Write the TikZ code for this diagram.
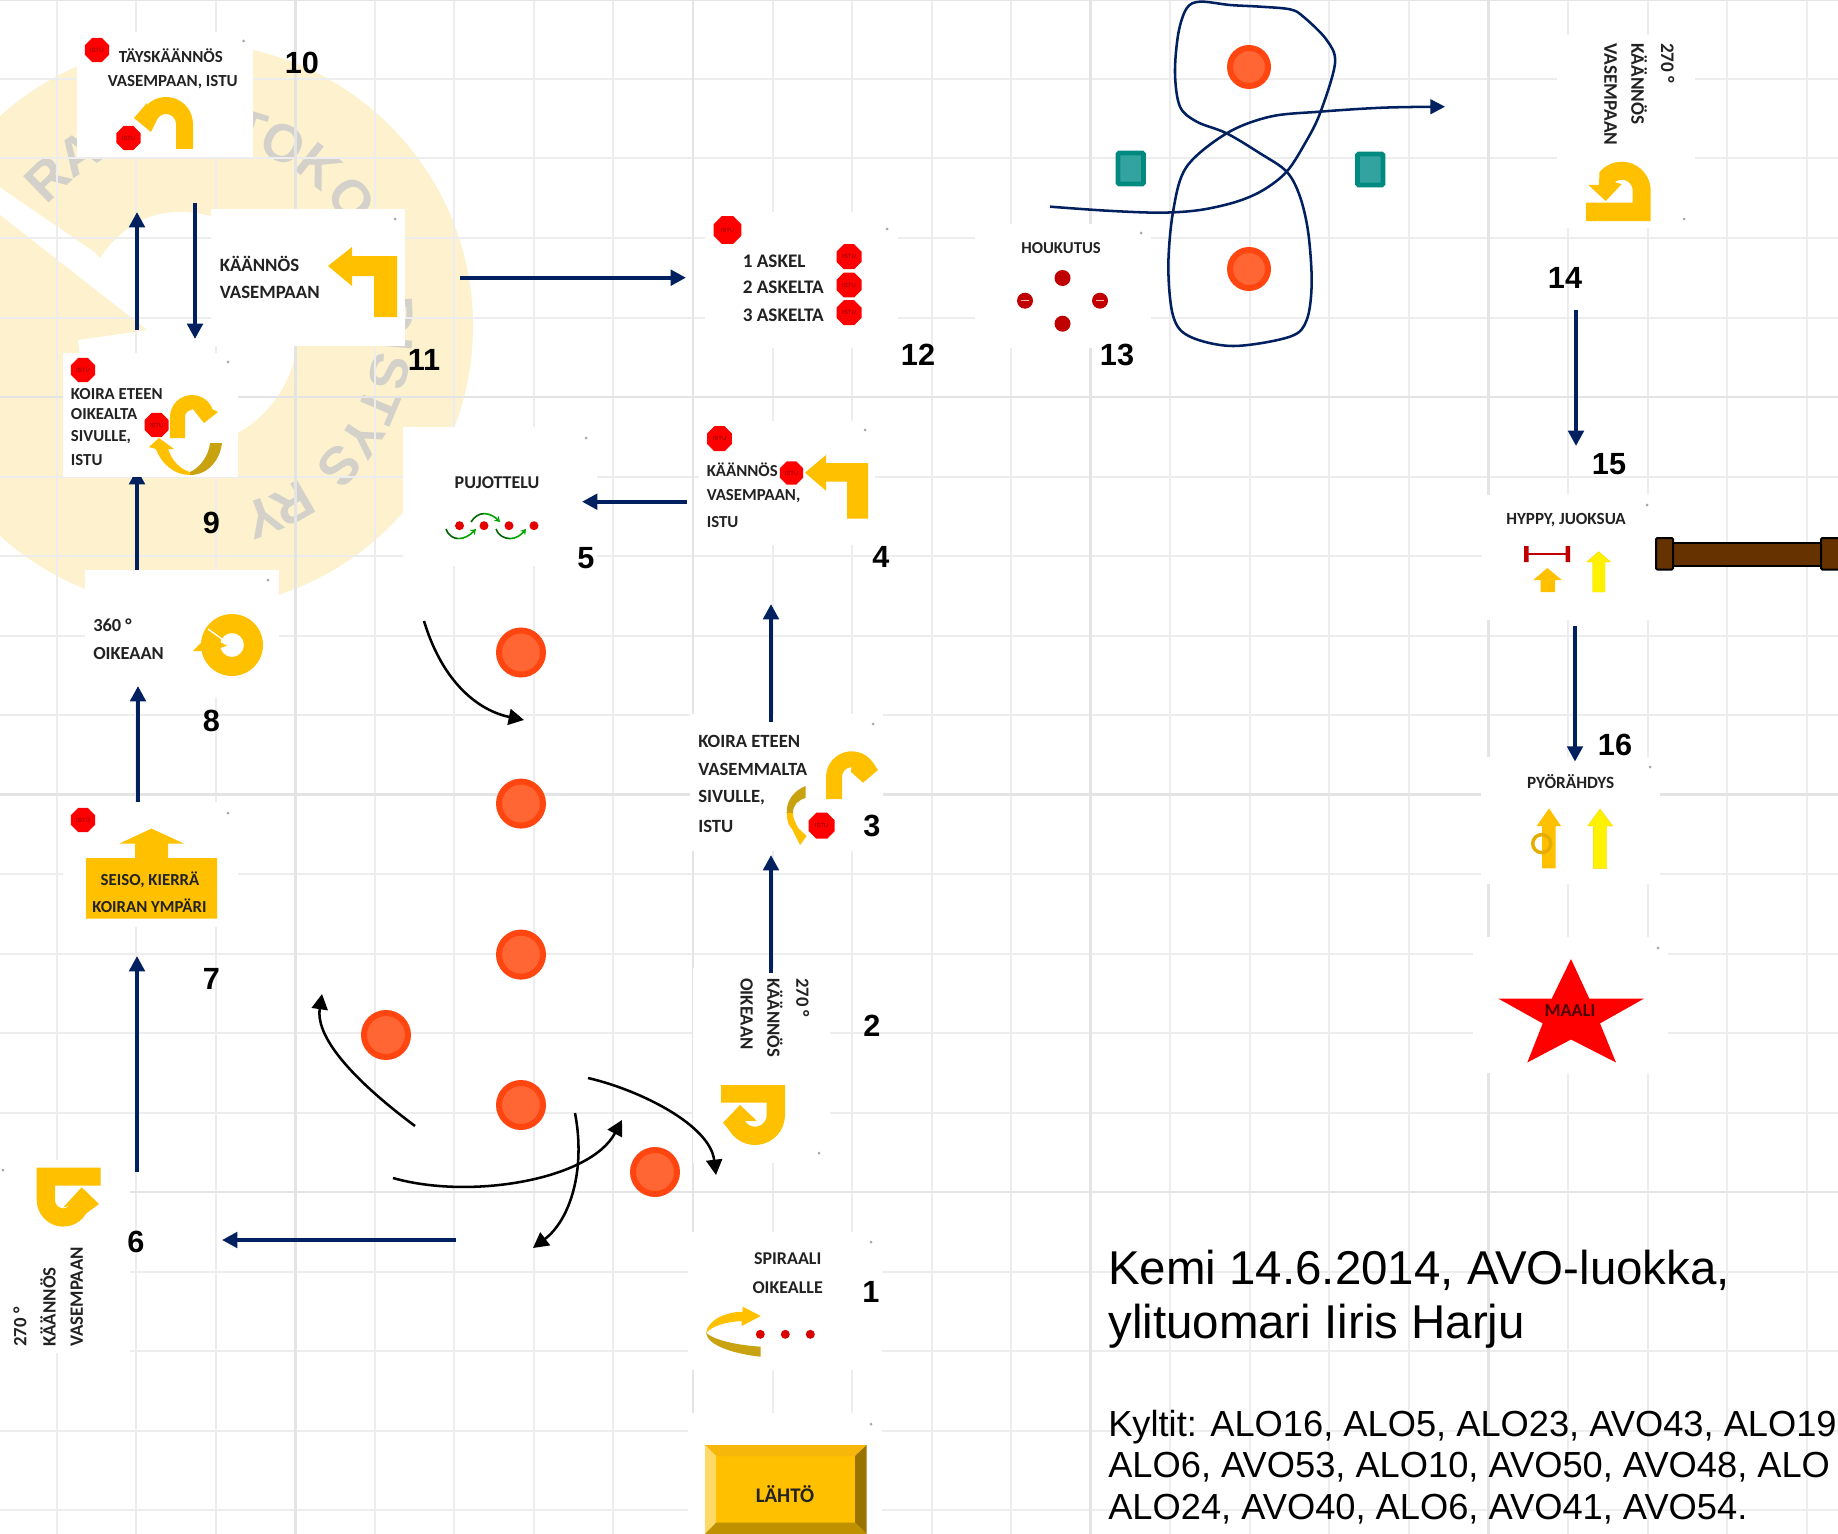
\documentclass[tikz,border=0pt]{standalone}
\usepackage{fontspec}
\setmainfont{Liberation Sans}
\newfontfamily\signfont{Carlito}
\usetikzlibrary{arrows.meta,shapes.geometric}
\definecolor{navy}{HTML}{002060}
\definecolor{amb}{HTML}{FFC000}
\definecolor{ambdark}{HTML}{C9A20F}
\definecolor{pale}{HTML}{FDF2CD}
\definecolor{gridminor}{HTML}{EDEDED}
\definecolor{gridmajor}{HTML}{E4E4E4}
\definecolor{wmgrey}{HTML}{D3D1C9}
\definecolor{cone}{HTML}{FF6633}
\definecolor{coneedge}{HTML}{FF4611}
\definecolor{teal1}{HTML}{33A3A0}
\definecolor{teal2}{HTML}{00897F}
\definecolor{signtext}{HTML}{222222}
\definecolor{darkred}{HTML}{C00000}
\definecolor{hurdle}{HTML}{663300}
\tikzset{
  tile/.style={fill=white,draw=none},
  amberfill/.style={fill=amb,draw=none},
  ribbon/.style={fill=ambdark,draw=none},
  navyarrow/.style={draw=navy,line width=3pt,-{Triangle[length=11.5pt,width=11.5pt]}},
  thinnavy/.style={draw=navy,line width=1.9pt},
  curvearrow/.style={draw=black,line width=1.9pt,-{Triangle[length=11.5pt,width=12pt]}},
  sg/.style={font=\signfont\bfseries\fontsize{#1}{15}\selectfont,text=signtext,inner sep=0pt},
  sg/.default=13.4,
  num/.style={font=\bfseries\fontsize{23}{23}\selectfont,text=black,inner sep=0pt},
  stopsgn/.style={regular polygon,regular polygon sides=8,fill=red,draw=none,inner sep=0pt,font=\fontsize{4.5}{5}\selectfont,text=darkred!70!black},
  cone1/.style={fill=cone,draw=coneedge,line width=4.5pt},
  gate/.style={fill=teal1,draw=teal2,line width=3.6pt,rounded corners=1pt},
  wm/.style={font=\bfseries\fontsize{40}{40}\selectfont,text=wmgrey,inner sep=0pt},
  speck/.style={fill=gray!70,draw=none},
  gd/.style={draw=green!40!black,line width=1.2pt},
  gl/.style={draw=green!65!black,line width=1.2pt,-{Stealth[length=4pt,width=5pt]}},
  ydot/.style={fill=yellow,draw=amb!70!yellow,line width=0.3pt},
  post/.style={draw=black,line width=1.5pt,fill=hurdle,rounded corners=1pt},
}
\newcommand{\stopsign}[4]{\node[stopsgn,minimum size=#4*0.78pt] (#1) at (#2,#3) {ISTU};}
\begin{document}
\begin{tikzpicture}[x=0.75pt,y=-0.75pt]
\path[use as bounding box,fill=white] (0,0) rectangle (1838,1534);
\clip (0,0) rectangle (1838,1534);

% watermark
\fill[pale] (190,326) circle (283);
\fill[white] (180,330) circle (118);
\fill[white] (-5,184) -- (103,258) -- (150,330) -- (0,218) -- cycle;
\fill[pale] (147,330) -- (0,215) -- (-10,215) -- (-10,420) -- (86,420) -- (78,340) -- cycle;
\fill[pale] (100,258) .. controls (115,235) and (140,215) .. (167,213) -- (120,190) -- (70,225) -- cycle;
\foreach \ch/\ang in {R/134,A/123,T/73,O/63,K/51,O/38,D/3,I/-5,S/-13,T/-23,Y/-33,S/-43,R/-60,Y/-69}
  \node[wm,rotate=\ang-90,name=wm\ang] at ({190+205*cos(\ang)},{326-205*sin(\ang)}) {\ch};

% grid
\foreach \k in {-9,...,14} {
  \pgfmathsetmacro{\gx}{693+79.55*\k}
  \draw[gridminor,line width=1.5pt] (\gx,0) -- (\gx,1534);
}
\foreach \k in {-5,...,14} {
  \pgfmathsetmacro{\gy}{397+79.5*\k}
  \draw[gridminor,line width=1.5pt] (0,\gy) -- (1838,\gy);
}
\foreach \gx in {295.3,693,1090.8,1488.5} \draw[gridmajor,line width=2pt] (\gx,0) -- (\gx,1534);
\foreach \gy in {0,397,794.5,1192} \draw[gridmajor,line width=2pt] (0,\gy) -- (1838,\gy);

% named ends of connectors
\coordinate (a8s) at (137,589);   \coordinate (a8e) at (137,469);
\coordinate (a7s) at (138,802);   \coordinate (a7e) at (138,686);
\coordinate (a6s) at (137,1172);  \coordinate (a6e) at (137,956);
\coordinate (a9s) at (137,330);   \coordinate (a9e) at (137,212);
\coordinate (a10s) at (195,203);  \coordinate (a10e) at (195,339);
\coordinate (a11s) at (460,277.7);\coordinate (a11e) at (686,277.7);
\coordinate (a4s) at (686.5,501.7);\coordinate (a4e) at (582,501.7);
\coordinate (a3s) at (771,722);   \coordinate (a3e) at (771,604);
\coordinate (a2s) at (771,973);   \coordinate (a2e) at (771,855);
\coordinate (a5s) at (456,1240);  \coordinate (a5e) at (222,1240);
\coordinate (a14s) at (1576,310); \coordinate (a14e) at (1576,446);
\coordinate (a15s) at (1575,625.6);\coordinate (a15e) at (1575,761.6);
\coordinate (c1s) at (424,621);   \coordinate (c1e) at (524,720);
\coordinate (c2s) at (415,1126);  \coordinate (c2e) at (322,994);
\coordinate (c3s) at (393,1178);  \coordinate (c3e) at (622,1120);
\coordinate (c4s) at (575,1113);  \coordinate (c4e) at (533,1248);
\coordinate (c5s) at (588,1078);  \coordinate (c5e) at (716,1175);

% arrows that lie under the tiles
\draw[navyarrow] (a8s) -- (a8e);

% tiles
\fill[tile] (77,32) rectangle (253,157);
\fill[tile] (211,209) rectangle (405,346);
\fill[tile] (63,353) rectangle (238,477);
\fill[tile] (403,427) rectangle (597,566);
\fill[tile] (85,570) rectangle (279,697);
\fill[tile] (63,802) rectangle (238,927);
\fill[tile] (705,212) rectangle (898,348);
\fill[tile] (975,224) rectangle (1151,348);
\fill[tile] (699,421) rectangle (875,545);
\fill[tile] (690,714) rectangle (883,851);
\fill[tile] (693,968) rectangle (830,1163);
\fill[tile] (1557,35) rectangle (1695,228);
\fill[tile] (1482,495) rectangle (1657,620);
\fill[tile] (1481,757) rectangle (1660,884);
\fill[tile] (1473,937) rectangle (1668,1073);
\fill[tile] (688,1232) rectangle (882,1370);
\fill[tile] (688,1413) rectangle (882,1534);
\fill[tile] (0,1160) rectangle (130,1353);
\foreach \sx/\sy in {243.5/41,395/219,228/362,586/438,268/580,228/813,887/229,1141/233,865/430,873/724,819/1153,1684/219,1647/505,1650/767,1658/948,871/1242,871/1424,3/1170}
  \fill[speck] (\sx,\sy) circle (1.5);

% connectors
\draw[navyarrow] (a7s) -- (a7e);
\draw[navyarrow] (a6s) -- (a6e);
\draw[navyarrow] (a9s) -- (a9e);
\draw[navyarrow] (a10s) -- (a10e);
\draw[navyarrow] (a11s) -- (a11e);
\draw[navyarrow] (a4s) -- (a4e);
\draw[navyarrow] (a3s) -- (a3e);
\draw[navyarrow] (a2s) -- (a2e);
\draw[navyarrow] (a5s) -- (a5e);
\draw[navyarrow] (a14s) -- (a14e);
\draw[navyarrow] (a15s) -- (a15e);
\draw[curvearrow] (c1s) .. controls (445,690) and (485,712) .. (c1e);
\draw[curvearrow] (c2s) .. controls (360,1085) and (315,1040) .. (c2e);
\draw[curvearrow] (c3s) .. controls (470,1200) and (590,1180) .. (c3e);
\draw[curvearrow] (c4s) .. controls (586,1170) and (570,1220) .. (c4e);
\draw[curvearrow] (c5s) .. controls (640,1090) and (710,1125) .. (c5e);

% cones
\foreach \cx/\cy in {521/652.5,521/803.6,521/954.6,386/1035,521/1105,655/1172}
  \draw[cone1] (\cx,\cy) circle (22);
\foreach \cx/\cy in {1249/67,1249/269}
  \draw[cone1] (\cx,\cy) circle (19);
\draw[gate] (1118,153) rectangle (1143.5,184);
\draw[gate] (1357.5,154) rectangle (1383,185);

% figure of eight
\begin{scope}[shift={(1030,0)},x=0.25pt,y=-0.25pt]
\draw[thinnavy,smooth,tension=0.55,-{Triangle[length=11pt,width=11pt]}] plot coordinates {
 (60,620) (230,632) (390,638) (510,630) (620,605) (700,570) (770,515) (825,430) (870,340) (915,190) (890,120) (820,50) (780,28) (690,20) (600,15) (510,5) (470,25) (445,100) (435,220) (450,320) (500,365) (590,400) (690,460) (770,515) (810,590) (835,700) (845,850) (830,960) (780,1010) (610,1038) (480,1010) (430,950) (415,800) (430,630) (470,500) (590,400) (720,350) (870,335) (1060,323) (1245,320)};
\end{scope}

% sign 10
\stopsign{s10a}{97}{50}{25}
\stopsign{s10b}{128.5}{138}{25}
\node[sg=12.7,anchor=west] (t10a) at (118.6,56) {TÄYSKÄÄNNÖS};
\node[sg=12.7,anchor=west] (t10b) at (107.5,82) {VASEMPAAN, ISTU};
\fill[amberfill] (193,149) -- plot[domain=0:135,samples=15] ({166+27*cos(\x)},{124-27*sin(\x)}) -- (147,103) -- (134,118) -- (151,132) -- plot[domain=150:0,samples=10] ({166+10*cos(\x)},{124-10*sin(\x)}) -- (176,149) -- cycle;
\node[num] (n10) at (302,63) {10};

% sign 11
\node[sg=14.1,anchor=west] (t11a) at (219.5,264) {KÄÄNNÖS};
\node[sg=14.1,anchor=west] (t11b) at (219.5,292) {VASEMPAAN};
\fill[amberfill] (328,266) -- (352,247) -- (352,256) -- (397,256) -- (397,317) -- (374,317) -- (374,276) -- (352,276) -- (352,286) -- cycle;
\node[num] (n11) at (424,360) {11};

% sign 9
\stopsign{s9a}{83}{370}{25}
\node[sg=12.6,anchor=west] (t9a) at (70.7,394) {KOIRA ETEEN};
\node[sg=12.6,anchor=west] (t9b) at (70.7,414) {OIKEALTA};
\node[sg=12.6,anchor=west] (t9c) at (70.7,437) {SIVULLE,};
\node[sg=12.6,anchor=west] (t9d) at (70.7,460) {ISTU};
\fill[amberfill] (170,438) -- plot[domain=180:20,samples=15] ({192+22*cos(\x)},{417-22*sin(\x)}) -- (218,412) -- (204,423) -- (192,408) -- plot[domain=90:180,samples=8] ({192+7*cos(\x)},{417-7*sin(\x)}) -- (185,438) -- cycle;
\stopsign{s9b}{156.6}{425}{25}
\fill[amberfill] (159,438) -- (174,449) -- (168,449) .. controls (172,461) and (180,469) .. (190,472) -- (190,475) .. controls (175,475) and (162,465) .. (156,449) -- (149,447) -- cycle;
\fill[ribbon] (190,475) .. controls (208,475) and (220,460) .. (222,443) -- (210,443) .. controls (209,455) and (200,468) .. (190,472) -- cycle;
\node[num] (n9) at (211.5,523) {9};

% sign 5
\node[sg=13.5,anchor=center] (t5) at (497,483) {PUJOTTELU};
\foreach \dx in {459.5,484,509,534} \fill[red!90!black] (\dx,525.7) circle (4.5);
\draw[gd] (446,529) .. controls (448,535) and (453,538.6) .. (458.5,538.6);
\draw[gl] (458.5,538.6) .. controls (465,538.6) and (470,535) .. (476,529);
\draw[gd] (471,522) .. controls (474,517) and (479,513.6) .. (484,513.6);
\draw[gl] (484,513.6) .. controls (490,513.6) and (495,517) .. (500,522);
\draw[gd] (496,529) .. controls (498,535) and (504,538.6) .. (510,538.6);
\draw[gl] (510,538.6) .. controls (516,538.6) and (521,535) .. (526,529);
\node[num] (n5) at (586,558) {5};

% sign 8
\node[sg=13.8,anchor=west] (t8a) at (93,625) {360 °};
\node[sg=13.8,anchor=west] (t8b) at (93,653.6) {OIKEAAN};
\fill[amberfill,even odd rule] (232,645) circle (31) (232,645) circle (12);
\fill[amberfill] (193,651) -- (208,635.7) -- (227,645.7) -- (212,651) -- cycle;
\draw[white,line width=1pt] (208,629) -- (226,642);
\node[num] (n8) at (211.5,721) {8};

% sign 7
\stopsign{s7a}{83}{820}{25}
\fill[amberfill] (151.4,828.6) -- (184,843.6) -- (168,843.6) -- (168,858) -- (217,858) -- (217,918.6) -- (86,918.6) -- (86,858) -- (135,858) -- (135,843.6) -- (119.4,843.6) -- cycle;
\node[sg=12.6,anchor=center] (t7a) at (150,880) {SEISO, KIERRÄ};
\node[sg=12.6,anchor=center] (t7b) at (149.4,905.7) {KOIRAN YMPÄRI};
\node[num] (n7) at (211.5,978.6) {7};

% sign 12
\stopsign{s12a}{727.5}{230}{29}
\stopsign{s12b}{849}{256.7}{26}
\stopsign{s12c}{849}{285}{26}
\stopsign{s12d}{849}{312.7}{26}
\node[sg=14.4,anchor=west] (t12a) at (742.5,261.7) {1 ASKEL};
\node[sg=14.4,anchor=west] (t12b) at (742.5,287) {2 ASKELTA};
\node[sg=14.4,anchor=west] (t12c) at (742.5,315) {3 ASKELTA};
\node[num] (n12) at (918,355) {12};

% sign 13
\node[sg=12.5,anchor=center] (t13) at (1061,248) {HOUKUTUS};
\foreach \dx/\dy in {1062.5/278,1025/300.7,1100/300.7,1062.5/323.7} \fill[darkred] (\dx,\dy) circle (8);
\foreach \dx in {1025,1100} \draw[red!30!white,line width=0.8pt] (\dx-4,300.7) -- (\dx+4,300.7);
\node[num] (n13) at (1117,355) {13};

% sign 4
\stopsign{s4a}{719.5}{438.7}{26}
\stopsign{s4b}{791.5}{473}{24}
\node[sg=12.6,anchor=west] (t4a) at (706.5,470) {KÄÄNNÖS};
\node[sg=12.6,anchor=west] (t4b) at (706.5,496) {VASEMPAAN,};
\node[sg=12.6,anchor=west] (t4c) at (706.5,521.7) {ISTU};
\fill[amberfill] (805,472.7) -- (826,455) -- (826,463) -- (868,463) -- (868,518.7) -- (847,518.7) -- (847,481.7) -- (826,481.7) -- (826,490.7) -- cycle;
\node[num] (n4) at (881,557) {4};

% sign 3
\node[sg=14,anchor=west] (t3a) at (698,741) {KOIRA ETEEN};
\node[sg=14,anchor=west] (t3b) at (698,769) {VASEMMALTA};
\node[sg=14,anchor=west] (t3c) at (698,797.7) {SIVULLE,};
\node[sg=14,anchor=west] (t3d) at (698,826) {ISTU};
\stopsign{s3a}{821.7}{825.7}{27}
\fill[amberfill] (826,799) -- plot[domain=180:35,samples=15] ({851.7+25.7*cos(\x)},{777-25.7*sin(\x)}) -- (878,770) -- (863,782.7) -- (850.7,771.7) -- plot[domain=90:180,samples=8] ({851.7+9.7*cos(\x)},{777-9.7*sin(\x)}) -- (842,799) -- cycle;
\fill[ribbon] (805.7,786) .. controls (795,790) and (786,800) .. (786.7,813) -- (793,813) .. controls (793,805) and (798,800) .. (805.7,798) -- cycle;
\fill[amberfill] (786.7,813) .. controls (787,822) and (789,826) .. (792,829) -- (800,845) -- (806.7,836) -- (798,828) .. controls (795,822) and (793,818) .. (793,813) -- cycle;
\node[num] (n3) at (872,826) {3};

% sign 2
\node[sg=14,rotate=-90,anchor=west] (t2a) at (802.7,978) {270 °};
\node[sg=14,rotate=-90,anchor=west] (t2b) at (775,978) {KÄÄNNÖS};
\node[sg=14,rotate=-90,anchor=west] (t2c) at (746.7,978) {OIKEAAN};
\fill[amberfill] (721,1085) -- (785,1085) -- plot[domain=0:-150,samples=15] ({755+30*cos(\x)},{1115-30*sin(\x)}) -- (723,1122.7) -- (740,1105) -- (756.7,1120.7) -- (749,1121) -- plot[domain=-150:0,samples=10] ({755+11.7*cos(\x)},{1115-11.7*sin(\x)}) -- (766.7,1102.7) -- (721,1102.7) -- cycle;
\node[num] (n2) at (872,1026) {2};

% sign 1
\node[sg=13.5,anchor=center] (t1a) at (787.7,1259) {SPIRAALI};
\node[sg=13.5,anchor=center] (t1b) at (787.7,1287.3) {OIKEALLE};
\foreach \dx in {760.3,785.3,810.3} \fill[red!85!black] (\dx,1334.3) circle (4.5);
\fill[amberfill] (706,1333) .. controls (708,1320) and (725,1312) .. (742.7,1311.7) -- (742.7,1306.7) -- (760.7,1316) -- (741.7,1326) -- (741.7,1321) .. controls (725,1322) and (712,1326) .. (706,1333) -- cycle;
\fill[ribbon] (706,1333) .. controls (708,1346) and (735,1354) .. (760.7,1356.7) -- (760.7,1346.7) .. controls (735,1345) and (715,1340) .. (706,1333) -- cycle;
\node[num] (n1) at (871,1292) {1};

% start
\fill[amb] (716,1456) rectangle (855,1522.7);
\fill[amb!85!brown] (705,1445) -- (866.7,1445) -- (855,1456) -- (716,1456) -- cycle;
\fill[amb!60!white] (705,1445) -- (716,1456) -- (716,1522.7) -- (705,1534) -- cycle;
\fill[amb!60!black] (866.7,1445) -- (855,1456) -- (855,1522.7) -- (866.7,1534) -- cycle;
\fill[amb!75!black] (705,1534) -- (716,1522.7) -- (855,1522.7) -- (866.7,1534) -- cycle;
\node[sg=15.6,anchor=center] (t0) at (785,1494) {LÄHTÖ};

% sign 6
\node[sg=14.1,rotate=90,anchor=west] (t6a) at (20,1347) {270 °};
\node[sg=14.1,rotate=90,anchor=west] (t6b) at (48,1347) {KÄÄNNÖS};
\node[sg=14.1,rotate=90,anchor=west] (t6c) at (76.7,1347) {VASEMPAAN};
\fill[amberfill] (100.7,1167.7) -- (36.7,1167.7) -- plot[domain=180:330,samples=15] ({63.3+26.6*cos(\x)},{1200-26.6*sin(\x)}) -- (99,1204) -- (81.7,1187.3) -- (63.3,1207.3) -- (69,1206) -- plot[domain=320:180,samples=10] ({63.3+8.3*cos(\x)},{1200-8.3*sin(\x)}) -- (55,1185.7) -- (100.7,1185.7) -- cycle;
\node[num] (n6) at (136,1241.7) {6};

% sign 14
\node[sg=14.4,rotate=-90,anchor=west] (t14a) at (1667.7,43) {270 °};
\node[sg=14.4,rotate=-90,anchor=west] (t14b) at (1639,43) {KÄÄNNÖS};
\node[sg=14.4,rotate=-90,anchor=west] (t14c) at (1610.7,43) {VASEMPAAN};
\fill[amberfill] (1650.7,221) -- (1586,221) -- (1586,202.7) -- (1632.7,202.7) -- plot[domain=0:130,samples=10] ({1621.7+11*cos(\x)},{190.7-11*sin(\x)}) -- (1621.7,184) -- (1605.7,201) -- (1588.3,185) -- (1599,185) -- plot[domain=140:0,samples=15] ({1621.7+29*cos(\x)},{190.7-29*sin(\x)}) -- cycle;
\node[num] (n14) at (1565,278) {14};

% sign 15
\node[sg=12.8,anchor=center] (t15) at (1566,520) {HYPPY, JUOKSUA};
\draw[darkred,line width=1.6pt] (1526,554) -- (1567.7,554);
\fill[darkred] (1524,546) rectangle (1528.5,562) (1565.5,546) rectangle (1570,562);
\fill[amberfill] (1547.3,568) -- (1561.7,580) -- (1555,580) -- (1555,592) -- (1540.7,592) -- (1540.7,580) -- (1533.3,580) -- cycle;
\filldraw[ydot] (1598.7,551.6) -- (1610.7,562) -- (1605,562) -- (1605,592) -- (1592.7,592) -- (1592.7,562) -- (1586.7,562) -- cycle;
\node[num] (n15) at (1609,464) {15};
\draw[post,rounded corners=0pt] (1673,543) rectangle (1821,566);
\draw[post] (1656,538) rectangle (1673,569.5);
\draw[post] (1821,538) rectangle (1845,569.5);

% sign 16
\node[sg=12.9,anchor=center] (t16) at (1570.7,782) {PYÖRÄHDYS};
\fill[amberfill] (1549,808.4) -- (1561,826) -- (1555.7,826) -- (1555.7,868.4) -- (1542,868.4) -- (1542,826) -- (1536.7,826) -- cycle;
\draw[amb!90!black,line width=2.6pt] (1541.7,843.6) circle (9);
\filldraw[ydot] (1600,809) -- (1612.7,826) -- (1606.7,826) -- (1606.7,868.4) -- (1593.3,868.4) -- (1593.3,826) -- (1587.7,826) -- cycle;
\node[num] (n16) at (1615,745) {16};

% finish
\fill[red] (1571,959) -- (1589.3,998.6) -- (1644,998.6) -- (1600,1023.4) -- (1616,1062.5) -- (1571,1039.5) -- (1527.3,1062.5) -- (1542.7,1023.4) -- (1498.3,998.6) -- (1551.7,998.6) -- cycle;
\node[sg=13.7,text=black!70!red,anchor=center] (t17) at (1570,1011) {MAALI};

% title and list
\node[anchor=base west,inner sep=0pt,align=left,font=\fontsize{35.6}{39.8}\selectfont] (title) at (1108,1338) {Kemi 14.6.2014, AVO-luokka,\\ylituomari Iiris Harju};
\node[anchor=base west,inner sep=0pt,align=left,font=\fontsize{27.2}{31.1}\selectfont] (list) at (1108,1519) {Kyltit: ALO16, ALO5, ALO23, AVO43, ALO19\\ALO6, AVO53, ALO10, AVO50, AVO48, ALO\\ALO24, AVO40, ALO6, AVO41, AVO54.};
\end{tikzpicture}
\end{document}
